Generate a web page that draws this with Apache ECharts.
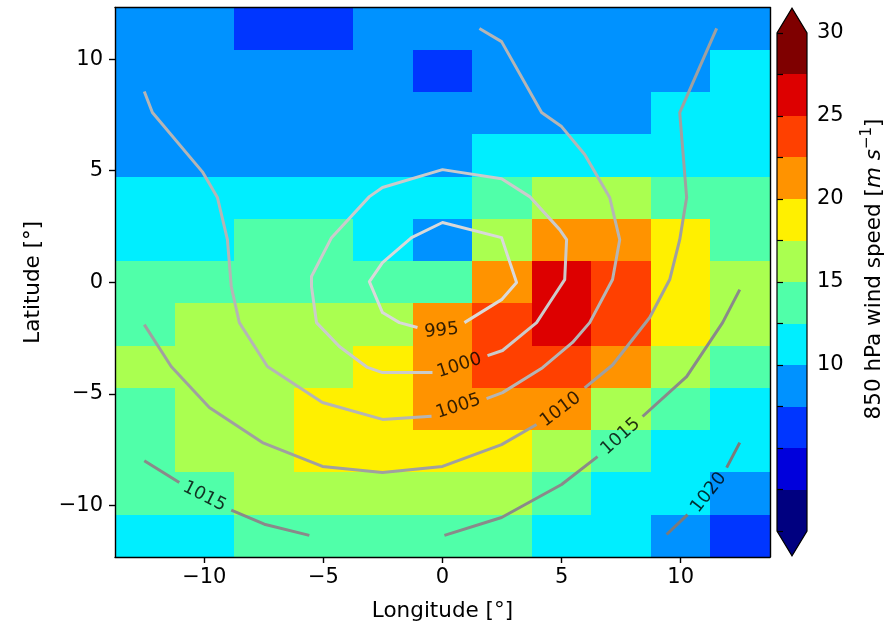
<!DOCTYPE html>
<html><head><meta charset="utf-8">
<script src="https://cdn.jsdelivr.net/npm/echarts@6/dist/echarts.min.js"></script>
<style>html,body{margin:0;padding:0;background:#fff}#c{width:889px;height:631px}</style>
</head><body><div id="c"></div>
<script>
// ---- data ----
const lons = [-12.5, -10, -7.5, -5, -2.5, 0, 2.5, 5, 7.5, 10, 12.5];
const lats = [11.37, 9.47, 7.58, 5.68, 3.79, 1.89, 0, -1.89, -3.79, -5.68, -7.58, -9.47, -11.37];
// 850 hPa wind speed (m/s), one row per latitude (north to south)
const windSpeed = [
  [8.6, 8.1, 7.2, 6.9, 7.9, 8.4, 8.8, 9.1, 9.3, 9.6, 9.4],
  [8.9, 8.7, 8.3, 8.0, 7.8, 7.3, 7.9, 8.5, 9.2, 9.8, 10.4],
  [9.2, 9.0, 8.8, 8.6, 8.4, 8.2, 8.7, 9.3, 9.7, 10.3, 10.8],
  [9.6, 9.5, 9.3, 9.1, 8.8, 8.6, 10.2, 11.0, 11.4, 11.6, 11.3],
  [11.1, 11.6, 12.1, 12.2, 11.4, 10.3, 14.4, 16.1, 15.8, 14.2, 13.6],
  [11.8, 12.3, 13.0, 12.7, 10.9, 9.1, 16.4, 20.9, 21.3, 18.6, 14.7],
  [12.9, 13.6, 13.9, 13.4, 12.8, 13.2, 21.6, 25.8, 24.1, 19.2, 15.6],
  [14.1, 15.3, 15.8, 15.6, 16.3, 21.4, 24.2, 26.1, 23.4, 18.9, 15.9],
  [15.2, 16.1, 16.6, 17.1, 18.2, 22.1, 24.6, 23.8, 21.7, 16.9, 14.3],
  [14.6, 15.4, 16.8, 17.9, 19.3, 21.9, 21.5, 20.8, 16.4, 13.8, 12.1],
  [13.9, 15.1, 16.2, 17.8, 18.7, 19.1, 18.3, 16.0, 13.5, 11.8, 11.2],
  [13.1, 14.4, 15.3, 16.2, 16.9, 17.2, 15.8, 14.2, 12.1, 10.6, 9.7],
  [11.6, 12.2, 13.1, 13.7, 14.1, 14.3, 12.9, 11.9, 10.8, 9.4, 7.1]
];
const levels = [0, 2.5, 5, 7.5, 10, 12.5, 15, 17.5, 20, 22.5, 25, 27.5, 30];
const levelColors = ['#000080', '#0000dc', '#0036ff', '#0092ff', '#00eeff', '#50ffa9',
                     '#aaff50', '#fff000', '#ff9300', '#ff4000', '#dd0000', '#7f0000'];
const axisTicks = [-10, -5, 0, 5, 10];
const cbLabels = [10, 15, 20, 25, 30];

// mean sea-level pressure contours (hPa), each a list of segments of [lon, lat]
const contourLevels = [995, 1000, 1005, 1010, 1015, 1020];
const contour995 = [
  [[-1.05,-2.03],[-1.81,-1.81],[-2.52,-1.36],[-3.07,0.03],[-2.52,0.88],[-1.30,2.00],[0,2.68],
   [2.48,2.00],[3.11,-0.01],[2.48,-0.78],[0.92,-1.81]]
];
const contour1000 = [
  [[-0.42,-4.05],[-2.52,-4.05],[-3.15,-3.82],[-4.33,-2.88],[-5.29,-1.81],[-5.50,-0.19],[-5.50,0.26],
   [-4.66,2.00],[-3.07,3.84],[-2.52,4.25],[0,5.05],[2.48,4.64],[3.66,3.84],[4.92,2.36],[5.21,1.91],
   [5.13,0.12],[4.50,-0.91],[3.95,-1.81],[2.52,-3.06],[1.89,-3.29]]
];
const contour1005 = [
  [[-12.52,8.55],[-12.18,7.61],[-10.08,4.95],[-9.45,3.80],[-9.03,1.91],[-8.87,-0.19],[-8.53,-1.81],
   [-7.35,-3.78],[-5.04,-5.39],[-2.52,-6.15],[-0.46,-6.01]],
  [[1.85,-5.22],[2.52,-4.95],[4.20,-3.83],[5.46,-2.70],[6.18,-1.81],[7.14,0.12],[7.44,1.91],
   [7.02,3.80],[5.97,5.73],[5.00,6.98],[4.16,7.61],[2.48,10.79],[1.55,11.38]]
];
const contour1010 = [
  [[-12.52,-1.90],[-11.39,-3.78],[-9.79,-5.62],[-7.56,-7.19],[-5.04,-8.26],[-2.52,-8.53],[0,-8.26],
   [2.48,-7.28],[3.95,-6.38]],
  [[5.97,-4.74],[7.14,-3.71],[8.70,-1.58],[9.54,0.12],[9.96,1.91],[10.25,3.80],[9.96,7.61],[11.51,11.38]]
];
const contour1015 = [
  [[-12.52,-8.00],[-11.05,-8.98]],
  [[-8.87,-10.22],[-7.48,-10.85],[-5.59,-11.35]],
  [[0.08,-11.35],[2.48,-10.55],[5.00,-9.07],[6.51,-7.82]],
  [[8.40,-6.02],[10.25,-4.23],[11.76,-1.81],[12.48,-0.33]]
];
const contour1020 = [
  [[9.41,-11.31],[10.29,-10.42]],
  [[11.93,-8.31],[12.48,-7.19]]
];
const contours = [contour995, contour1000, contour1005, contour1010, contour1015, contour1020];
// inline contour labels: [lon, lat, text, angle]
const contourLabels = [
  [-0.04, -2.17, '995', 6],
  [0.71, -3.74, '1000', 18],
  [0.67, -5.57, '1005', 18],
  [4.96, -5.71, '1010', 37],
  [-10.0, -9.61, '1015', -27],
  [7.48, -6.92, '1015', 42],
  [11.18, -9.43, '1020', 52]
];

// ---- styles ----
const FONT = 'DejaVu Sans';
const contourColors = ['#d9d9d9', '#cbcbcb', '#b5b5b5', '#a0a0a0', '#8a8a8a', '#7a7a7a'];
const minus = v => String(v).replace('-', '\u2212');

// ---- build ----
const dLon = lons[1] - lons[0];
const latEdges = [];
for (let k = 0; k <= lats.length; k++) {
  if (k === 0) latEdges.push(lats[0] + (lats[0] - lats[1]) / 2);
  else if (k === lats.length) latEdges.push(lats[k - 1] - (lats[k - 2] - lats[k - 1]) / 2);
  else latEdges.push((lats[k - 1] + lats[k]) / 2);
}
const xMin = lons[0] - dLon / 2, xMax = lons[lons.length - 1] + dLon / 2;
const yMax = latEdges[0], yMin = latEdges[latEdges.length - 1];

const cells = [];
windSpeed.forEach((row, j) => row.forEach((v, i) => cells.push([lons[i], lats[j], v, i, j])));

const pieces = levelColors.map((c, k) => ({ gte: levels[k], lt: levels[k + 1], color: c }));
pieces[pieces.length - 1] = { gte: levels[levels.length - 2], color: levelColors[levelColors.length - 1] };
pieces[0] = { lt: levels[1], color: levelColors[0] };

const contourSeries = contours.map((segs, n) => {
  const data = [];
  segs.forEach((s, si) => { if (si) data.push('-'); s.forEach(p => data.push(p)); });
  return {
    type: 'line', xAxisIndex: 0, yAxisIndex: 0, data, showSymbol: false, symbol: 'none',
    connectNulls: false, silent: true, z: 4, animation: false,
    lineStyle: { color: contourColors[n], width: 3, cap: 'butt', join: 'round' }
  };
});

const cbBlocks = levelColors.map((c, k) => [levels[k], levels[k + 1], k]);
const extFrac = 0.05 * (levels[levels.length - 1] - levels[0]);
const snap = v => Math.round(v);

const axisLineStyle = { color: '#000', width: 1.4 };
const option = {
  animation: false,
  backgroundColor: '#fff',
  textStyle: { fontFamily: FONT },
  grid: [
    { left: 115, right: 119, top: 7.5, bottom: 74 },
    { left: 777, width: 34, top: 33, height: 498 }
  ],
  visualMap: {
    type: 'piecewise', show: false, seriesIndex: 0, dimension: 2, pieces
  },
  xAxis: [
    { type: 'value', gridIndex: 0, min: xMin, max: xMax, z: 10,
      name: 'Longitude [°]', nameLocation: 'middle', nameGap: 43,
      nameTextStyle: { fontFamily: FONT, fontSize: 21.5, color: '#000' },
      axisLine: { show: true, onZero: false, lineStyle: axisLineStyle },
      axisTick: { show: true, inside: false, length: 6, customValues: axisTicks, lineStyle: axisLineStyle },
      axisLabel: { customValues: axisTicks, formatter: minus, fontFamily: FONT, fontSize: 21, color: '#000', margin: 10 },
      splitLine: { show: false } },
    { type: 'value', gridIndex: 0, min: xMin, max: xMax, position: 'top', z: 10,
      axisLine: { show: true, onZero: false, lineStyle: axisLineStyle },
      axisTick: { show: false }, axisLabel: { show: false }, splitLine: { show: false } },
    { type: 'value', gridIndex: 1, min: 0, max: 1, show: false }
  ],
  yAxis: [
    { type: 'value', gridIndex: 0, min: yMin, max: yMax, z: 10,
      name: 'Latitude [°]', nameLocation: 'middle', nameGap: 71, nameRotate: 90,
      nameTextStyle: { fontFamily: FONT, fontSize: 21.5, color: '#000' },
      axisLine: { show: true, onZero: false, lineStyle: axisLineStyle },
      axisTick: { show: true, inside: false, length: 6, customValues: axisTicks, lineStyle: axisLineStyle },
      axisLabel: { customValues: axisTicks, formatter: minus, fontFamily: FONT, fontSize: 21, color: '#000', margin: 12 },
      splitLine: { show: false } },
    { type: 'value', gridIndex: 0, min: yMin, max: yMax, position: 'right', z: 10,
      axisLine: { show: true, onZero: false, lineStyle: axisLineStyle },
      axisTick: { show: false }, axisLabel: { show: false }, splitLine: { show: false } },
    { type: 'value', gridIndex: 1, min: levels[0], max: levels[levels.length - 1], position: 'right', z: 10,
      name: '850 hPa wind speed [{i|m s}{s|\u22121}]', nameLocation: 'middle', nameGap: 53, nameRotate: 90,
      nameTextStyle: { fontFamily: FONT, fontSize: 21.5, color: '#000', lineHeight: 28, padding: [0, 0, 0, 26],
        rich: { i: { fontFamily: FONT, fontSize: 21.5, fontStyle: 'italic', color: '#000', lineHeight: 28 },
                s: { fontFamily: FONT, fontSize: 15, color: '#000', verticalAlign: 'top', lineHeight: 28 } } },
      axisLine: { show: false },
      axisTick: { show: true, inside: false, length: 6, customValues: levels, lineStyle: { color: '#000', width: 1.2 } },
      axisLabel: { customValues: cbLabels, fontFamily: FONT, fontSize: 21, color: '#000', margin: 10 },
      splitLine: { show: false } }
  ],
  series: [
    { type: 'custom', xAxisIndex: 0, yAxisIndex: 0, data: cells, clip: true, z: 2, silent: true,
      encode: { x: 0, y: 1 },
      renderItem: (params, api) => {
        const i = api.value(3), j = api.value(4);
        const x = lons[i];
        const p1 = api.coord([x - dLon / 2, latEdges[j]]);
        const p2 = api.coord([x + dLon / 2, latEdges[j + 1]]);
        const x0 = snap(p1[0]), y0 = snap(p1[1]), x1 = snap(p2[0]), y1 = snap(p2[1]);
        return { type: 'rect', shape: { x: x0, y: y0, width: x1 - x0, height: y1 - y0 },
                 style: { fill: api.visual('color') } };
      } },
    ...contourSeries,
    { type: 'scatter', xAxisIndex: 0, yAxisIndex: 0, symbolSize: 0, z: 6, silent: true,
      data: contourLabels.map(l => ({ value: [l[0], l[1]],
        label: { show: true, position: 'inside', formatter: l[2], rotate: l[3],
                 fontFamily: FONT, fontSize: 18, color: '#000' } })) },
    { type: 'custom', xAxisIndex: 2, yAxisIndex: 2, data: cbBlocks, silent: true, z: 2,
      renderItem: (params, api) => {
        const lo = api.value(0), hi = api.value(1), k = api.value(2);
        const p1 = api.coord([0, hi]), p2 = api.coord([1, lo]);
        const x0 = snap(p1[0]), y0 = snap(p1[1]), x1 = snap(p2[0]), y1 = snap(p2[1]);
        const children = [{ type: 'rect', shape: { x: x0, y: y0, width: x1 - x0, height: y1 - y0 },
                            style: { fill: levelColors[k] } }];
        if (k === 0) {
          children.push({ type: 'polygon', shape: { points: [api.coord([0, lo]), api.coord([1, lo]), api.coord([0.5, lo - extFrac])] },
                          style: { fill: levelColors[k] } });
        }
        if (k === levelColors.length - 1) {
          children.push({ type: 'polygon', shape: { points: [api.coord([0, hi]), api.coord([1, hi]), api.coord([0.5, hi + extFrac])] },
                          style: { fill: levelColors[k] } });
        }
        return { type: 'group', children };
      } },
    { type: 'custom', xAxisIndex: 2, yAxisIndex: 2, data: [[levels[0], levels[levels.length - 1]]], silent: true, z: 5,
      renderItem: (params, api) => {
        const lo = api.value(0), hi = api.value(1);
        const pts = [[0, lo], [0, hi], [0.5, hi + extFrac], [1, hi], [1, lo], [0.5, lo - extFrac]].map(p => api.coord(p));
        return { type: 'polygon', shape: { points: pts }, style: { fill: 'none', stroke: '#000', lineWidth: 1.2 } };
      } }
  ]
};
const chart = echarts.init(document.getElementById('c'));
chart.setOption(option);
</script>
</body></html>
